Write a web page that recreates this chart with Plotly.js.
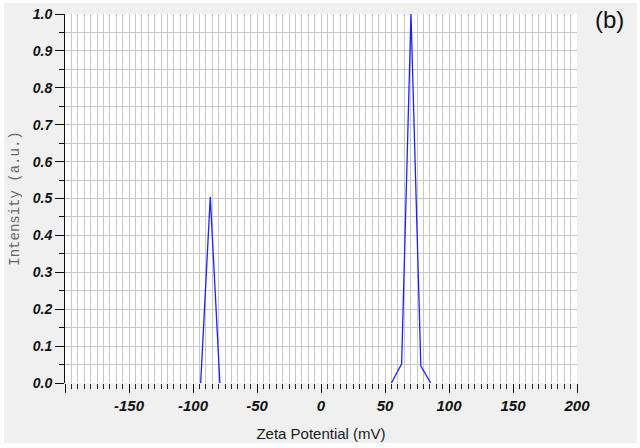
<!DOCTYPE html>
<html>
<head>
<meta charset="utf-8">
<script src="https://cdn.plot.ly/plotly-3.0.1.min.js"></script>
<style>
  html, body { margin: 0; padding: 0; background: #ffffff; }
  #bg { position: absolute; left: 4px; top: 3px; width: 633px; height: 440px; background: #f0f0f0; }
  #chart { position: absolute; left: 0; top: 0; width: 640px; height: 448px; }
</style>
</head>
<body>
<div id="bg"></div>
<div id="chart"></div>
<script>
// Zeta potential distribution
const zetaPotential = [-94, -86.5, -79, 55, 63, 70.3, 78, 85.7];
const intensity     = [0,   0.505, 0,   0,  0.052, 1.0, 0.046, 0];
const peak1X = zetaPotential.slice(0, 3);
const peak1Y = intensity.slice(0, 3);
const peak2X = zetaPotential.slice(3);
const peak2Y = intensity.slice(3);

const xTickVals = [-200, -150, -100, -50, 0, 50, 100, 150, 200];
const xTickText = ['', '-150', '-100', '-50', '0', '50', '100', '150', '200'];
const yTickVals = [0, 0.1, 0.2, 0.3, 0.4, 0.5, 0.6, 0.7, 0.8, 0.9, 1.0];
const yTickText = ['0.0', '0.1', '0.2', '0.3', '0.4', '0.5', '0.6', '0.7', '0.8', '0.9', '1.0'];

const xTitle = 'Zeta Potential (mV)';
const yTitle = 'Intensity (a.u.)';
const panelLabel = '(b)';

const lineStyle = { color: '#1f1fff', width: 1.3 };

const traces = [
  { x: peak1X, y: peak1Y, type: 'scatter', mode: 'lines', line: lineStyle, hoverinfo: 'x+y' },
  { x: peak2X, y: peak2Y, type: 'scatter', mode: 'lines', line: lineStyle, hoverinfo: 'x+y' }
];

const xTickFont = { family: 'Liberation Sans, Arial, sans-serif', size: 15, color: '#111', weight: 'bold', style: 'italic' };
const yTickFont = { family: 'Liberation Sans, Arial, sans-serif', size: 14, color: '#111', weight: 'bold', style: 'italic' };

const layout = {
  width: 640,
  height: 448,
  margin: { l: 65, r: 63, t: 14, b: 65 },
  paper_bgcolor: 'rgba(0,0,0,0)',
  plot_bgcolor: '#ffffff',
  showlegend: false,
  xaxis: {
    range: [-200, 200],
    tickmode: 'array',
    tickvals: xTickVals,
    ticktext: xTickText,
    ticks: 'outside',
    ticklen: 9,
    tickwidth: 1,
    tickcolor: '#111',
    tickfont: xTickFont,
    showgrid: true,
    gridcolor: '#c8c8c8',
    gridwidth: 1,
    zeroline: false,
    showline: false,
    minor: { dtick: 5, tick0: 0, ticks: 'outside', ticklen: 5, tickcolor: '#222', showgrid: true, gridcolor: '#c8c8c8', gridwidth: 1 },
    title: { text: xTitle, font: { family: 'Liberation Sans, Arial, sans-serif', size: 15, color: '#1a1a1a' }, standoff: 15 },
    fixedrange: true
  },
  yaxis: {
    range: [0, 1],
    tickmode: 'array',
    tickvals: yTickVals,
    ticktext: yTickText,
    ticks: 'outside',
    ticklen: 9,
    tickwidth: 1,
    tickcolor: '#111',
    tickfont: yTickFont,
    showgrid: true,
    gridcolor: '#c8c8c8',
    gridwidth: 1,
    zeroline: false,
    showline: true,
    linecolor: '#111',
    linewidth: 1,
    minor: { dtick: 0.05, tick0: 0, ticks: 'outside', ticklen: 5, tickcolor: '#111', showgrid: true, gridcolor: '#c8c8c8', gridwidth: 1 },
    title: { text: yTitle, font: { family: 'Liberation Mono, DejaVu Sans Mono, monospace', size: 14, color: '#666' }, standoff: 9 },
    fixedrange: true
  },
  annotations: [
    { text: panelLabel, xref: 'paper', yref: 'paper', x: 1.0625, y: 0.984, xanchor: 'center', yanchor: 'middle',
      showarrow: false, font: { family: 'Liberation Sans, Arial, sans-serif', size: 24, color: '#111' } }
  ]
};

Plotly.newPlot('chart', traces, layout, { displayModeBar: false, staticPlot: true });
</script>
</body>
</html>
